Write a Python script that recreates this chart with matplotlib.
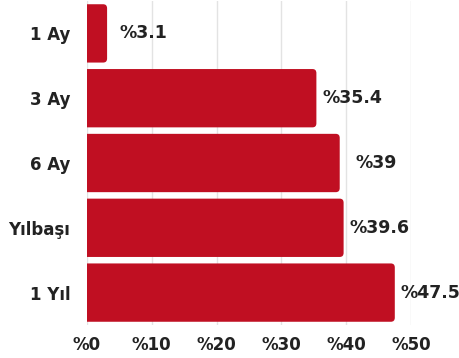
import matplotlib.pyplot as plt
from matplotlib.patches import FancyBboxPatch

categories = ['1 Ay', '3 Ay', '6 Ay', 'Yılbaşı', '1 Yıl']
values = [3.1, 35.4, 39, 39.6, 47.5]
value_labels = ['%3.1', '%35.4', '%39', '%39.6', '%47.5']
ticks = [0, 10, 20, 30, 40, 50]
tick_labels = ['%0', '%10', '%20', '%30', '%40', '%50']

red = '#C00F22'
plt.rcParams['font.family'] = ['DejaVu Sans']

fig = plt.figure(figsize=(4.6, 3.58), dpi=100)
ax = fig.add_axes([87 / 460, 33 / 358, (411 - 87) / 460, 324 / 358])

ypos = list(range(len(categories)))
for y, v in zip(ypos, values):
    box = FancyBboxPatch((-1, y - 0.45), v + 1, 0.9,
                         boxstyle='round,pad=0,rounding_size=0.6',
                         mutation_aspect=0.105, facecolor=red,
                         edgecolor='none', zorder=3)
    ax.add_patch(box)

for y, v, lab in zip(ypos, values, value_labels):
    ax.annotate(lab, (v, y), xytext=(26, 0), textcoords='offset points',
                ha='center', va='center', fontsize=12.5, fontweight='bold',
                color='#222222', annotation_clip=False)

ax.set_xlim(0, 50)
ax.set_ylim(4.5, -0.5)
ax.set_yticks(ypos)
ax.set_yticklabels(categories, fontsize=12, fontweight='bold', color='#222222')
ax.set_xticks(ticks)
ax.set_xticklabels(tick_labels, fontsize=12, fontweight='bold', color='#222222')
ax.tick_params(axis='y', length=0, pad=12)
ax.tick_params(axis='x', length=0, pad=8)
ax.grid(axis='x', color='#e3e3e3', linewidth=1, zorder=0)
for s in ax.spines.values():
    s.set_visible(False)

fig.savefig('out.png', dpi=100)
